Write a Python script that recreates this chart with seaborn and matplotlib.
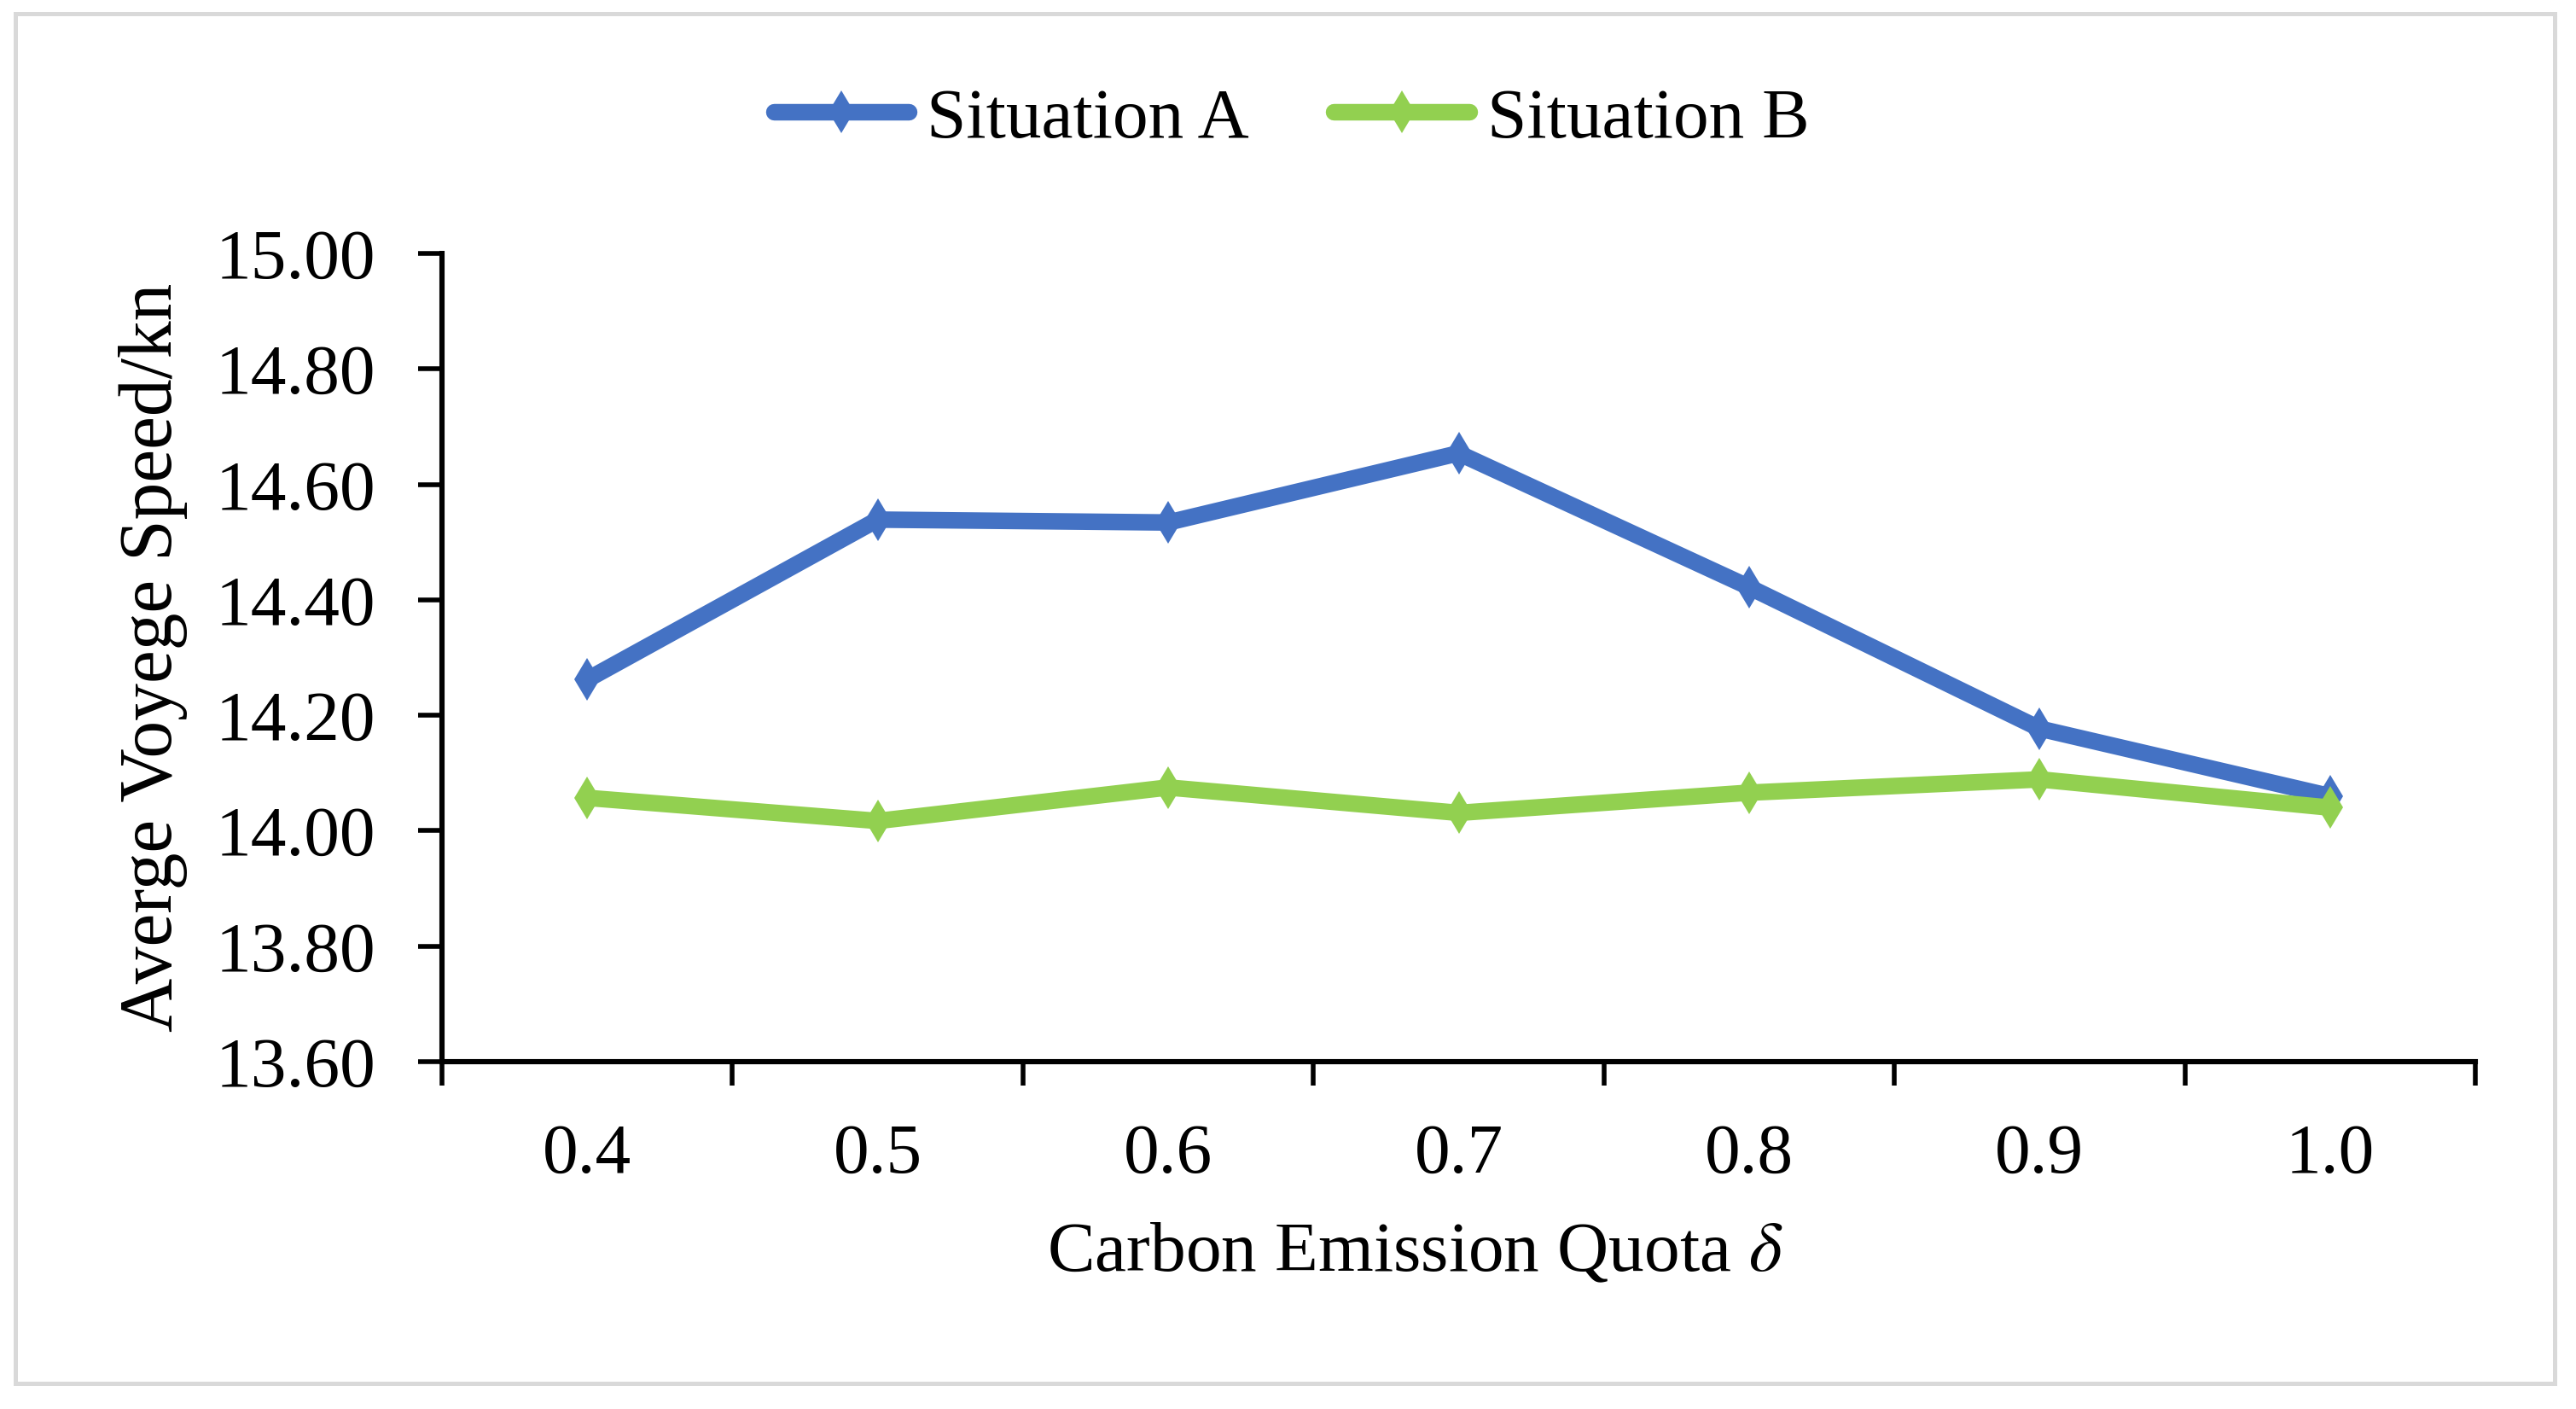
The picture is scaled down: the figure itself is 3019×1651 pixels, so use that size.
import matplotlib
matplotlib.use("Agg")
import matplotlib.pyplot as plt
import seaborn as sns
import pandas as pd
import numpy as np
from matplotlib.patches import Rectangle
from matplotlib.lines import Line2D

categories = ["0.4", "0.5", "0.6", "0.7", "0.8", "0.9", "1.0"]
situation_a = [14.262, 14.539, 14.534, 14.654, 14.422, 14.177, 14.060]
situation_b = [14.057, 14.017, 14.075, 14.031, 14.066, 14.089, 14.040]
series_names = ["Situation A", "Situation B"]
series_colors = ["#4472C4", "#92D050"]
y_ticks = [13.60, 13.80, 14.00, 14.20, 14.40, 14.60, 14.80, 15.00]

sns.set_theme(style="white")
plt.rcParams['font.family'] = ['Liberation Serif', 'DejaVu Serif']
plt.rcParams['mathtext.fontset'] = 'stix'
plt.rcParams['text.color'] = 'black'
plt.rcParams['axes.labelcolor'] = 'black'
plt.rcParams['xtick.color'] = 'black'
plt.rcParams['ytick.color'] = 'black'

pos = np.arange(len(categories))
df = pd.DataFrame({
    "pos": np.concatenate([pos, pos]),
    "value": situation_a + situation_b,
    "series": [series_names[0]] * len(categories) + [series_names[1]] * len(categories),
})
palette = dict(zip(series_names, series_colors))

fig = plt.figure(figsize=(15.095, 8.255), dpi=200)
ax = fig.add_axes([0.1716, 0.2465, 0.7893, 0.5736])

LW = 7.0
MS = 12.5
sns.lineplot(data=df, x="pos", y="value", hue="series", style="series",
             markers={n: "d" for n in series_names}, dashes=False,
             palette=palette, linewidth=LW, markersize=MS, markeredgewidth=0,
             ax=ax, solid_capstyle="round", legend=False)

ax.set_xlim(-0.5, len(categories) - 0.5)
ax.set_ylim(13.60, 15.00)
ax.set_yticks(y_ticks)
ax.set_yticklabels([f"{v:.2f}" for v in y_ticks])
ax.set_xticks(np.arange(-0.5, len(categories), 1.0))
ax.set_xticklabels([])
ax.set_xticks(pos, minor=True)
ax.set_xticklabels(categories, minor=True)
ax.tick_params(axis="x", which="major", direction="out", length=10, width=2.0, bottom=True)
ax.tick_params(axis="x", which="minor", length=0, pad=26, labelsize=30)
ax.tick_params(axis="y", direction="out", length=10, width=2.0, left=True, labelsize=30, pad=18)
for s in ["top", "right"]:
    ax.spines[s].set_visible(False)
for s in ["left", "bottom"]:
    ax.spines[s].set_color("black")
    ax.spines[s].set_linewidth(2.2)

ax.set_xlabel(r"Carbon Emission Quota $\delta$", fontsize=30)
ax.xaxis.label.set_va("baseline")
ax.xaxis.set_label_coords(0.4786, -0.259)
ax.set_ylabel("Averge Voyege Speed/kn", fontsize=31.5)
ax.yaxis.label.set_va("baseline")
ax.yaxis.set_label_coords(-0.1331, 0.5)

handles = [Line2D([], [], color=c, linewidth=LW, marker="d", markersize=MS,
                  markeredgewidth=0, solid_capstyle="round") for c in series_colors]
fig.legend(handles, series_names, loc="center", bbox_to_anchor=(0.5013, 0.915), ncol=2,
           frameon=False, fontsize=30, handlelength=1.9, handletextpad=0.25,
           columnspacing=1.2, borderpad=0, borderaxespad=0)

fig.patches.append(Rectangle((0.006, 0.018), 0.9857, 0.9723, transform=fig.transFigure,
                             fill=False, edgecolor="#D9D9D9", linewidth=1.8))

fig.savefig("out.png", dpi=200)
